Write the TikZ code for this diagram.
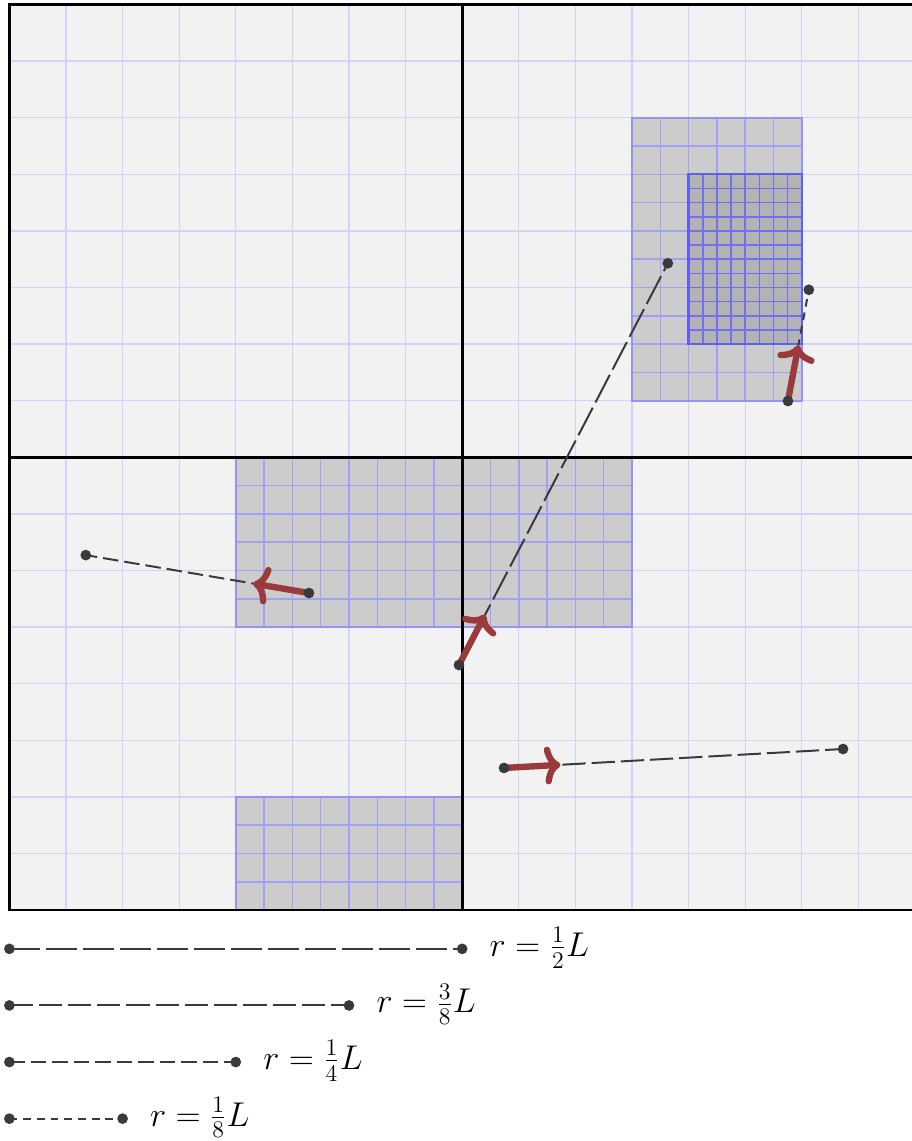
\documentclass[tikz,border=0pt]{standalone}
\usetikzlibrary{calc,arrows.meta}
\definecolor{bgc}{HTML}{F2F2F2}
\definecolor{gridc}{HTML}{D2D2FA}
\definecolor{boxc}{HTML}{CCCCCC}
\definecolor{boxgrid}{HTML}{A0A0F6}
\definecolor{boxedge}{HTML}{9494F8}
\definecolor{innerc}{HTML}{B3B3B3}
\definecolor{innergrid}{HTML}{7070F2}
\definecolor{inneredge}{HTML}{6060F0}
\definecolor{linkc}{HTML}{3A3A3A}
\definecolor{forcec}{HTML}{9B3A3A}
\begin{document}
\begin{tikzpicture}[
  coarsegrid/.style={draw=gridc, line width=0.65pt},
  boxfill/.style={fill=boxc},
  boxlines/.style={draw=boxgrid, line width=0.75pt},
  boxborder/.style={draw=boxedge, line width=1.2pt},
  innerfill/.style={fill=innerc},
  innerlines/.style={draw=innergrid, line width=0.8pt},
  innerborder/.style={draw=inneredge, line width=1.2pt},
  heavy/.style={draw=black, line width=1.4pt},
  link/.style={draw=linkc, line width=1pt},
  linkdash/.style={dash pattern=on #1 off 3pt},
  force/.style={draw=forcec, line width=3.2pt, line cap=round, -{To[length=8pt,width=19pt]}},
  dot/.style={circle, fill=linkc, inner sep=0pt, minimum size=5.4pt},
  lab/.style={anchor=base west, inner sep=0pt, font=\fontsize{17.3}{20}\selectfont}
]
\useasboundingbox (-0.166,-4.08) rectangle (15.947,16.08);
% background and coarse grid
\fill[bgc] (0,0) rectangle (16,16);
\foreach \k in {1,...,15} {
  \draw[coarsegrid] (\k,0) -- (\k,16);
  \draw[coarsegrid] (0,\k) -- (16,\k);
}
% refined boxes (half-unit cells)
\fill[boxfill] (11,9) rectangle (14,14);
\foreach \k in {1,...,5} \draw[boxlines] ({11+\k*0.5},9) -- ({11+\k*0.5},14);
\foreach \k in {1,...,9} \draw[boxlines] (11,{9+\k*0.5}) -- (14,{9+\k*0.5});
\draw[boxborder] (11,9) rectangle (14,14);
% quarter-unit cells
\fill[innerfill] (12,10) rectangle (14,13);
\foreach \k in {1,...,7} \draw[innerlines] ({12+\k*0.25},10) -- ({12+\k*0.25},13);
\foreach \k in {1,...,11} \draw[innerlines] (12,{10+\k*0.25}) -- (14,{10+\k*0.25});
\draw[innerborder] (12,10) rectangle (14,13);
\fill[boxfill] (4,5) rectangle (11,8);
\foreach \k in {1,...,13} \draw[boxlines] ({4+\k*0.5},5) -- ({4+\k*0.5},8);
\foreach \k in {1,...,5} \draw[boxlines] (4,{5+\k*0.5}) -- (11,{5+\k*0.5});
\draw[boxborder] (4,5) rectangle (11,8);
\fill[boxfill] (4,0) rectangle (8,2);
\foreach \k in {1,...,7} \draw[boxlines] ({4+\k*0.5},0) -- ({4+\k*0.5},2);
\foreach \k in {1,...,3} \draw[boxlines] (4,{\k*0.5}) -- (8,{\k*0.5});
\draw[boxborder] (4,0) rectangle (8,2);
% heavy lines
\draw[heavy] (8,0) -- (8,16);
\draw[heavy] (0,8) -- (16,8);
\draw[heavy] (0,0) rectangle (16,16);
% particle pairs
\coordinate (a1) at (7.943,4.330);
\coordinate (b1) at ($(a1)!8cm!(11.636,11.433)$);
\coordinate (a2) at (13.756,8.994);
\coordinate (b2) at ($(a2)!2cm!(14.127,10.972)$);
\coordinate (a3) at (5.293,5.602);
\coordinate (b3) at ($(a3)!4cm!(1.336,6.274)$);
\coordinate (a4) at (8.739,2.511);
\coordinate (b4) at ($(a4)!6cm!(14.728,2.846)$);
\draw[link, linkdash=15.6pt] (a1) -- (b1);
\draw[link, linkdash=3.9pt] (a2) -- (b2);
\draw[link, linkdash=7.8pt] (a3) -- (b3);
\draw[link, linkdash=11.7pt] (a4) -- (b4);
\draw[force] (a1) -- ($(a1)!1cm!(b1)$);
\draw[force] (a2) -- ($(a2)!1cm!(b2)$);
\draw[force] (a3) -- ($(a3)!1cm!(b3)$);
\draw[force] (a4) -- ($(a4)!1cm!(b4)$);
\foreach \p in {a1,b1,a2,b2,a3,b3,a4,b4} \node[dot] (d\p) at (\p) {};
% legend
\coordinate (l1s) at (0,-0.685); \coordinate (l1e) at (8,-0.685);
\coordinate (l2s) at (0,-1.685); \coordinate (l2e) at (6,-1.685);
\coordinate (l3s) at (0,-2.685); \coordinate (l3e) at (4,-2.685);
\coordinate (l4s) at (0,-3.685); \coordinate (l4e) at (2,-3.685);
\draw[link, linkdash=15.6pt] (l1s) -- (l1e);
\draw[link, linkdash=11.7pt] (l2s) -- (l2e);
\draw[link, linkdash=7.8pt] (l3s) -- (l3e);
\draw[link, linkdash=3.9pt] (l4s) -- (l4e);
\foreach \p in {l1s,l1e,l2s,l2e,l3s,l3e,l4s,l4e} \node[dot] (d\p) at (\p) {};
\node[lab] (t1) at ($(l1e)+(0.48,-0.13)$) {$r = \frac{1}{2}L$};
\node[lab] (t2) at ($(l2e)+(0.48,-0.13)$) {$r = \frac{3}{8}L$};
\node[lab] (t3) at ($(l3e)+(0.48,-0.13)$) {$r = \frac{1}{4}L$};
\node[lab] (t4) at ($(l4e)+(0.48,-0.13)$) {$r = \frac{1}{8}L$};
\end{tikzpicture}
\end{document}
